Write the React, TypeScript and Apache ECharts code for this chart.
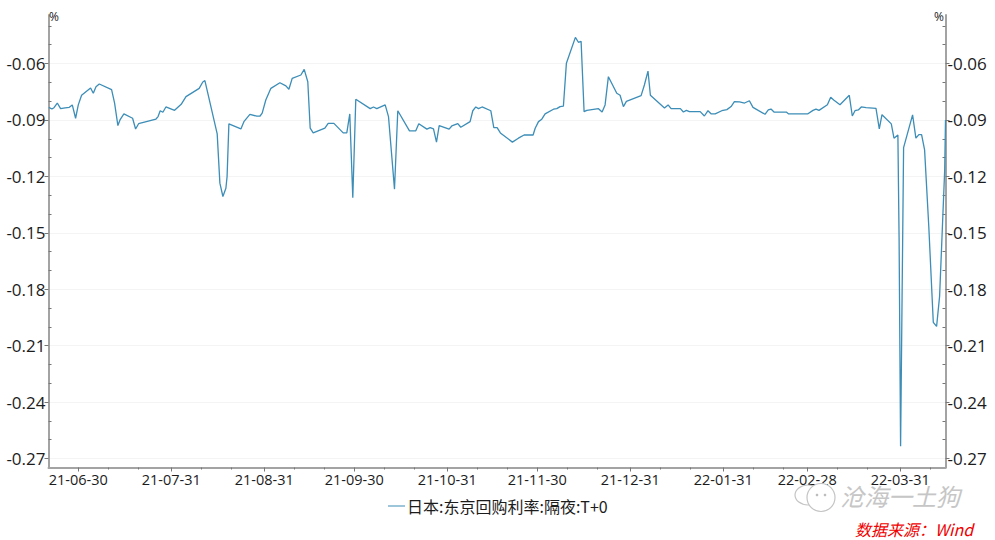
import React, { useEffect, useRef } from "react";
import * as echarts from "echarts";

const seriesName = "日本:东京回购利率:隔夜:T+0";
const unitLabel = "%";
const watermark = "沧海一土狗";
const sourceNote = "数据来源：Wind";

// Days after 2021-06-30 at which the month-end labels sit, and their labels.
const majorDays = [0, 31, 62, 92, 123, 153, 184, 215, 243, 274];
const dateLabels = ["21-06-30", "21-07-31", "21-08-31", "21-09-30", "21-10-31", "21-11-30", "21-12-31", "22-01-31", "22-02-28", "22-03-31"];
const minorDays = [10, 20, 41, 51, 72, 82, 102, 112, 133, 143, 163, 173, 194, 204, 225, 235, 253, 263, 284];
const majorRates = [-0.06, -0.09, -0.12, -0.15, -0.18, -0.21, -0.24, -0.27];
const minorRates = [-0.04, -0.05, -0.07, -0.08, -0.1, -0.11, -0.13, -0.14, -0.16, -0.17, -0.19, -0.2, -0.22, -0.23, -0.25, -0.26];

// [days after 2021-06-30, rate %]
const readings: [number, number][] = [
  [-9.8, -0.0833], [-8.8, -0.0842], [-8.1, -0.0835], [-7, -0.081], [-5.9, -0.084], [-4.4, -0.0836], [-3, -0.0833], [-2, -0.082],
  [-0.9, -0.0891], [0, -0.082], [1.1, -0.0769], [4.1, -0.073], [5, -0.0758], [5.9, -0.0723], [7, -0.0709], [11.1, -0.0739],
  [12.1, -0.0811], [13.2, -0.093], [13.9, -0.09], [15.2, -0.0868], [18.1, -0.0891], [19.1, -0.0948], [20.1, -0.092], [25.9, -0.0895],
  [26.6, -0.0882], [27.3, -0.0851], [28.2, -0.0859], [29.2, -0.0831], [32.1, -0.0849], [34.3, -0.0817], [35.9, -0.0776], [40.3, -0.0732],
  [41.5, -0.0698], [42.2, -0.0691], [43.3, -0.0767], [46.3, -0.0974], [47.2, -0.1236], [48.2, -0.1307], [49.2, -0.1263], [49.6, -0.1201],
  [50.2, -0.0921], [54.2, -0.0948], [55.2, -0.0909], [57.2, -0.087], [59.5, -0.088], [60.6, -0.0879], [61.3, -0.0864], [62.5, -0.0794],
  [64.2, -0.0732], [67.2, -0.0702], [69.2, -0.0719], [70.2, -0.0737], [71.3, -0.0679], [74.2, -0.0661], [75.3, -0.0631], [76.5, -0.0697],
  [77.3, -0.0944], [78.3, -0.0969], [82.2, -0.0944], [83.3, -0.0918], [85.2, -0.0918], [88.3, -0.0969], [89.5, -0.0969], [90.5, -0.0868],
  [91.5, -0.1314], [92.5, -0.079], [97.3, -0.084], [98.4, -0.0831], [99.5, -0.084], [102.3, -0.082], [103.4, -0.0882], [105.4, -0.1268],
  [106.5, -0.0851], [110.4, -0.0958], [112.5, -0.0958], [113.5, -0.092], [116.2, -0.0949], [117.3, -0.0941], [118.4, -0.0948], [119.4, -0.1018],
  [120.3, -0.093], [123.6, -0.0949], [124.5, -0.0932], [126.5, -0.092], [127.5, -0.0939], [130.6, -0.0909], [131.5, -0.0851], [132.5, -0.0831],
  [133.4, -0.084], [134.6, -0.0831], [137.5, -0.0851], [138.5, -0.0941], [139.6, -0.0941], [140.7, -0.0969], [144.7, -0.1018], [146.7, -0.0997],
  [148.6, -0.098], [151.6, -0.098], [152.3, -0.0944], [153.4, -0.0909], [154.5, -0.0896], [155.6, -0.0868], [158.4, -0.0843], [159.5, -0.084],
  [160.6, -0.0829], [161.7, -0.0827], [162.7, -0.0599], [165.7, -0.0461], [166.7, -0.0487], [167.6, -0.0482], [168.6, -0.0856], [169.5, -0.0849],
  [173.4, -0.084], [174.6, -0.0858], [175.6, -0.082], [176.7, -0.067], [179.5, -0.0758], [180.6, -0.0769], [181.7, -0.0829], [182.7, -0.0801],
  [187.6, -0.0771], [188.7, -0.0714], [189.9, -0.064], [190.7, -0.0769], [195.4, -0.0836], [196.6, -0.082], [197.6, -0.084], [200.7, -0.084],
  [201.7, -0.0858], [202.7, -0.0849], [203.7, -0.0856], [207.3, -0.0856], [208.7, -0.0879], [209.9, -0.0851], [211, -0.0868], [212.3, -0.0868],
  [214.5, -0.0851], [216.2, -0.0845], [217.6, -0.0829], [218.7, -0.0803], [220.4, -0.0804], [222.1, -0.081], [223.7, -0.0798], [224.9, -0.0833],
  [228.9, -0.087], [230, -0.0847], [230.9, -0.0842], [231.9, -0.0858], [236, -0.0858], [236.8, -0.0868], [243.1, -0.0868], [244.9, -0.0849],
  [245.9, -0.0842], [246.9, -0.0849], [249.7, -0.0819], [250.8, -0.0779], [251.8, -0.0794], [253.9, -0.0819], [257, -0.0769], [258, -0.0879],
  [258.9, -0.0851], [260, -0.0847], [261, -0.0831], [262.6, -0.0835], [265.9, -0.0838], [267, -0.0948], [267.9, -0.0872], [271, -0.0921],
  [271.9, -0.0997], [273.2, -0.098], [273.6, -0.1527], [274.1, -0.2635], [274.6, -0.1838], [275.1, -0.1047], [278.1, -0.0873], [279.2, -0.0997],
  [280.2, -0.0978], [281.1, -0.0978], [282.1, -0.1059], [283.5, -0.1467], [285, -0.1976], [286.1, -0.1998], [287.1, -0.1838], [288, -0.1484],
  [288.8, -0.1166], [289.07, -0.09],
];

const FONT = "'Open Sans','Noto Sans CJK SC',sans-serif";
const CJK = "'Noto Sans CJK SC',sans-serif";
const AXIS = "#a3a3a3";
const LINE = "#3c8db7";
const TEXT = "#1c1c1c";
const X_MIN = -9.93;
const X_MAX = 289.07;
const Y_MIN = -0.2748;
const Y_MAX = -0.0342;

const bubble = (cx: number, cy: number, rx: number, ry: number) => ({
  type: "ellipse", shape: { cx, cy, rx, ry }, z: 20,
  style: { fill: "#fff", stroke: "#c4c4c4", lineWidth: 1.2 },
});
const eye = (cx: number, cy: number) => ({
  type: "circle", shape: { cx, cy, r: 1.3 }, z: 21, style: { fill: "#bdbdbd" },
});

export default function App() {
  const ref = useRef<HTMLDivElement>(null);
  useEffect(() => {
    const chart = echarts.init(ref.current!, null, { renderer: "svg" });
    const hiddenLabel = { show: false };
    const yMajor = (position: string, margin: number) => ({
      type: "value", position, min: Y_MIN, max: Y_MAX, scale: true,
      axisLine: { show: true, onZero: false, lineStyle: { color: AXIS, width: 2 } },
      axisTick: { show: true, length: 4, customValues: majorRates, lineStyle: { color: "#777" } },
      axisLabel: {
        show: true, margin, customValues: majorRates, color: TEXT, fontSize: 17, fontFamily: FONT,
        formatter: (v: number) => v.toFixed(2),
      },
      splitLine: { show: position === "left", lineStyle: { color: "#f4f4f4", width: 1 } },
    });
    const yMinor = (position: string) => ({
      type: "value", position, min: Y_MIN, max: Y_MAX, scale: true,
      axisLine: { show: false, onZero: false },
      axisTick: { show: true, inside: true, length: 3, customValues: minorRates, lineStyle: { color: "#777" } },
      axisLabel: hiddenLabel,
      splitLine: { show: false },
    });
    chart.setOption({
      animation: false,
      grid: { left: 48.5, right: 49.5, top: 15, bottom: 72.5, containLabel: false },
      legend: {
        show: true, left: 383, top: 493, itemWidth: 17, itemHeight: 14, itemGap: 0,
        textStyle: { color: TEXT, fontSize: 16, fontFamily: CJK, padding: [0, 0, 0, -3] },
        data: [{ name: seriesName, icon: "path://M0 0H17V1H0Z" }],
      },
      xAxis: [
        {
          type: "value", min: X_MIN, max: X_MAX, position: "bottom",
          axisLine: { show: true, onZero: false, lineStyle: { color: AXIS, width: 2 } },
          axisTick: { show: true, length: 4, customValues: majorDays, lineStyle: { color: "#777" } },
          axisLabel: {
            show: true, margin: 5, customValues: majorDays, color: TEXT, fontSize: 14.5, fontFamily: FONT,
            formatter: (v: number) => dateLabels[majorDays.indexOf(Math.round(v))] ?? "",
          },
          splitLine: { show: false },
        },
        {
          type: "value", min: X_MIN, max: X_MAX, position: "bottom",
          axisLine: { show: false, onZero: false },
          axisTick: { show: true, length: 2, customValues: minorDays, lineStyle: { color: "#777" } },
          axisLabel: hiddenLabel,
          splitLine: { show: false },
        },
      ],
      yAxis: [yMajor("left", 3), yMajor("right", 2), yMinor("left"), yMinor("right")],
      series: [
        {
          name: seriesName, type: "line", xAxisIndex: 0, yAxisIndex: 0, data: readings,
          showSymbol: false, symbol: "none", lineStyle: { color: LINE, width: 1.3 }, itemStyle: { color: LINE },
          clip: false,
        },
      ],
      graphic: [
        { type: "text", x: 49, y: 10, z: 20, style: { text: unitLabel, fill: TEXT, font: `12px ${FONT}` } },
        { type: "text", x: 934, y: 10, z: 20, style: { text: unitLabel, fill: TEXT, font: `12px ${FONT}` } },
        bubble(808, 495, 13, 10),
        bubble(821, 497.5, 14, 14),
        eye(817, 495), eye(825, 495),
        { type: "text", x: 840, y: 483, z: 20, style: { text: watermark, fill: "#c6c6c6", font: `italic 24px ${CJK}` } },
        { type: "text", x: 855, y: 521, z: 20, style: { text: sourceNote, fill: "#f00000", font: `italic 16px ${CJK}` } },
      ],
    });
    return () => chart.dispose();
  }, []);
  return <div ref={ref} style={{ position: "absolute", left: 0, top: 0, width: 995, height: 540, background: "#fff" }} />;
}
